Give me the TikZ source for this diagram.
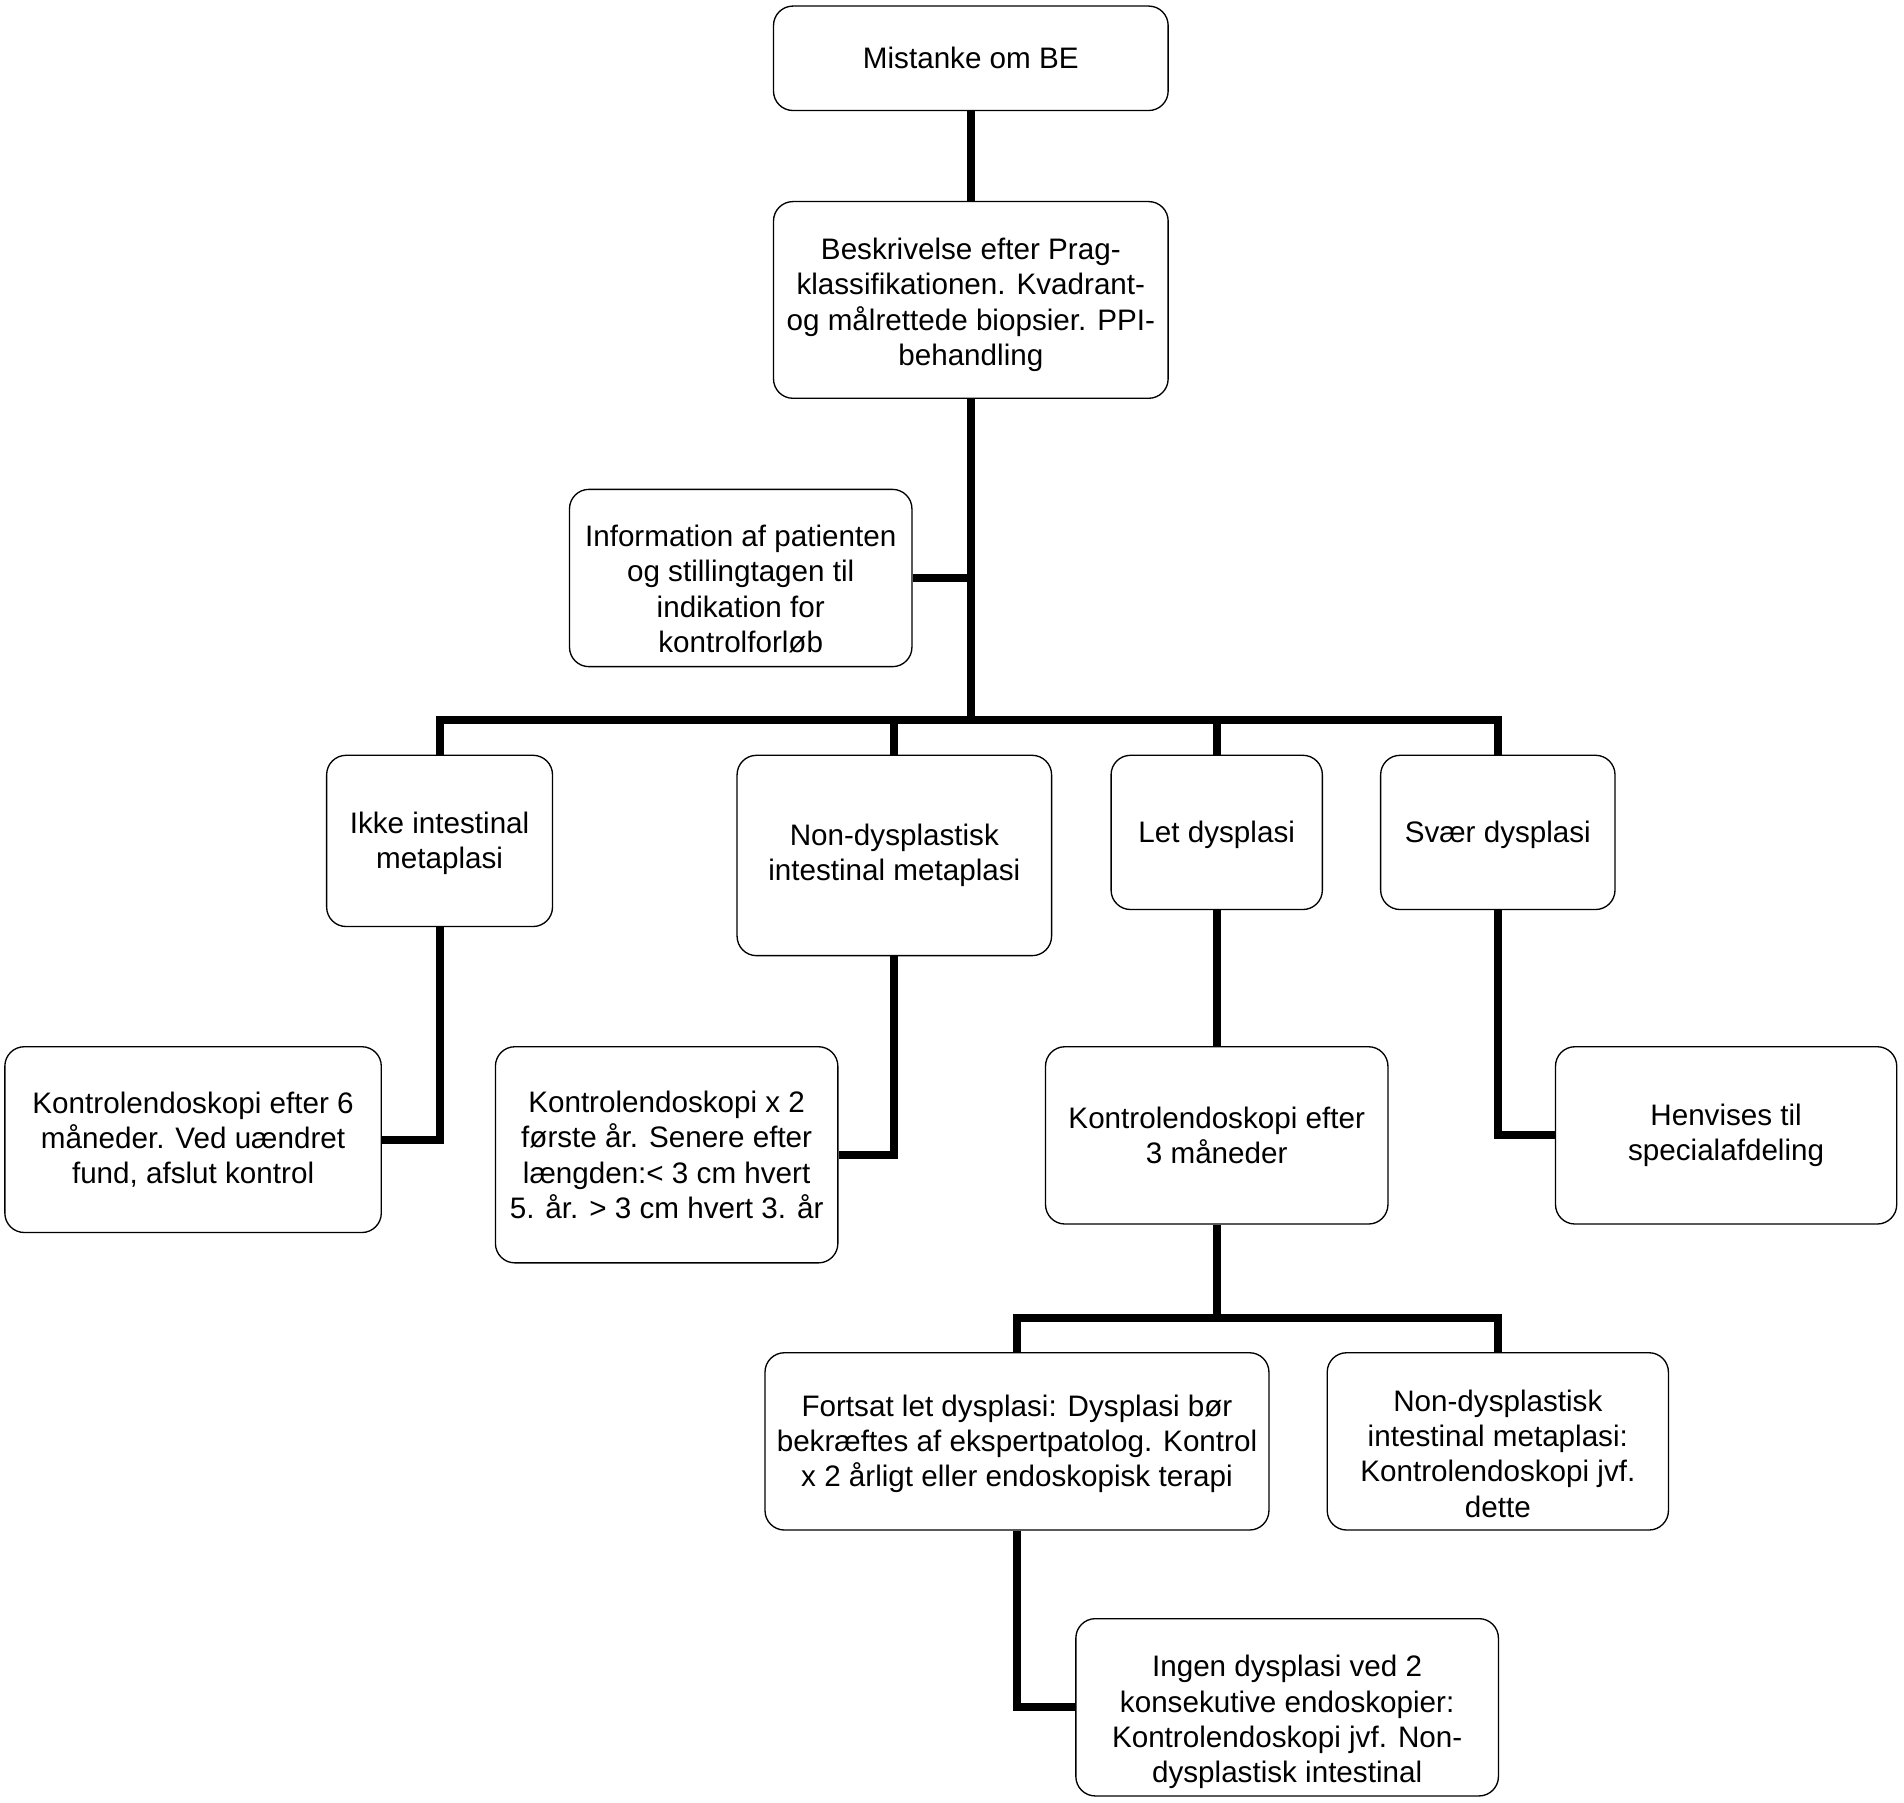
\documentclass[tikz,border=0pt]{standalone}
\usepackage{fontspec}
\setmainfont{Liberation Sans}
\newcommand{\sinkby}[1]{\rule{0pt}{#1}}
\begin{document}
\begin{tikzpicture}[x=0.5pt, y=-0.5pt,
    box/.style={draw, rounded corners=8pt, line width=0.55pt, align=center, inner sep=0pt,
        font=\fontsize{12.2}{14.5}\selectfont},
    link/.style={line width=3.3pt}]
    \useasboundingbox (0,0) rectangle (1568,1484);
    \node[box, minimum width=162.5pt, minimum height=43pt] (mistanke) at (799.5,48) {Mistanke om BE};
    \node[box, minimum width=162.5pt, minimum height=81pt] (beskriv) at (799.5,247) {\sinkby{12.9pt}Beskrivelse efter Prag-\\klassifikationen. Kvadrant-\\og målrettede biopsier. PPI-\\behandling};
    \node[box, minimum width=141pt, minimum height=73pt] (info) at (610,476) {\sinkby{17.9pt}Information af patienten\\og stillingtagen til\\indikation for\\kontrolforløb};
    \node[box, minimum width=93pt, minimum height=70.5pt] (ikke) at (362,692.5) {\sinkby{10.9pt}Ikke intestinal\\metaplasi};
    \node[box, minimum width=129.5pt, minimum height=82.5pt] (nondys) at (736.5,704.5) {Non-dysplastisk\\intestinal metaplasi};
    \node[box, minimum width=87pt, minimum height=63.5pt] (let) at (1002,685.5) {\sinkby{10.9pt}Let dysplasi};
    \node[box, minimum width=96.5pt, minimum height=63.5pt] (svaer) at (1233.5,685.5) {\sinkby{10.9pt}Svær dysplasi};
    \node[box, minimum width=155pt, minimum height=76.5pt] (kontrolA) at (159,938.5) {Kontrolendoskopi efter 6\\måneder. Ved uændret\\fund, afslut kontrol};
    \node[box, minimum width=141pt, minimum height=89pt] (kontrolB) at (549,951) {Kontrolendoskopi x 2\\første år. Senere efter\\længden:< 3 cm hvert\\5. år. > 3 cm hvert 3. år};
    \node[box, minimum width=141pt, minimum height=73pt] (kontrolC) at (1002,935) {Kontrolendoskopi efter\\3 måneder};
    \node[box, minimum width=140.5pt, minimum height=73pt] (henvis) at (1421.5,935) {Henvises til\\specialafdeling};
    \node[box, minimum width=207.5pt, minimum height=73pt] (fortsat) at (837.5,1187) {\sinkby{10.9pt}Fortsat let dysplasi: Dysplasi bør\\bekræftes af ekspertpatolog. Kontrol\\x 2 årligt eller endoskopisk terapi};
    \node[box, minimum width=140.5pt, minimum height=73pt] (nondysB) at (1233.5,1187) {\sinkby{18.9pt}Non-dysplastisk\\intestinal metaplasi:\\Kontrolendoskopi jvf.\\dette};
    \node[box, minimum width=174pt, minimum height=73pt] (ingen) at (1060,1406) {\sinkby{20.9pt}Ingen dysplasi ved 2\\konsekutive endoskopier:\\Kontrolendoskopi jvf. Non-\\dysplastisk intestinal};
    \coordinate (busA) at (799.5,593);
    \coordinate (busB) at (1002,1085);
    \draw[link] (mistanke) -- (beskriv);
    \draw[link] (beskriv.south) -- (busA);
    \draw[link] (info.east) -- (info.east -| busA);
    \draw[link] (ikke.north) |- (busA) -| (svaer.north);
    \draw[link] (nondys.north) -- (nondys.north |- busA);
    \draw[link] (let.north) -- (let.north |- busA);
    \draw[link] (ikke.south) |- (kontrolA.east);
    \draw[link] (nondys.south) |- (kontrolB.east);
    \draw[link] (let.south) -- (kontrolC.north);
    \draw[link] (svaer.south) |- (henvis.west);
    \draw[link] (kontrolC.south) -- (busB);
    \draw[link] (fortsat.north) |- (busB) -| (nondysB.north);
    \draw[link] (fortsat.south) |- (ingen.west);
\end{tikzpicture}
\end{document}
